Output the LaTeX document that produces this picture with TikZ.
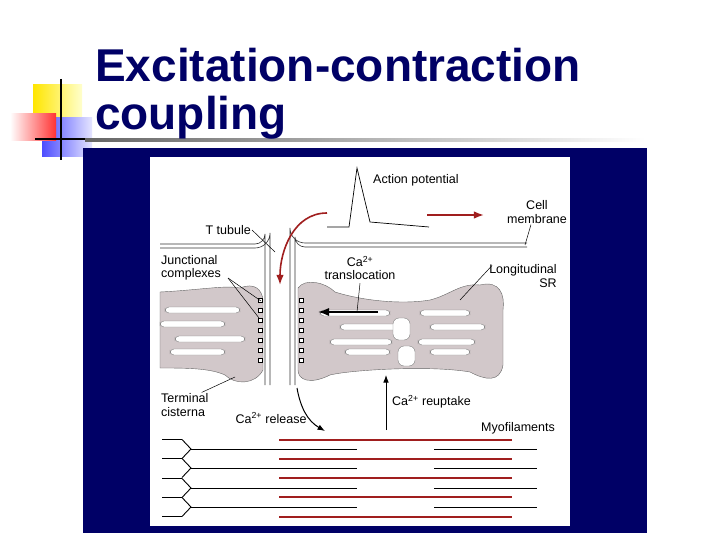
\documentclass[tikz,border=0pt]{standalone}
\usepackage{fontspec}
\setmainfont{Liberation Sans}
\usetikzlibrary{arrows.meta,positioning,calc}
\definecolor{navy}{RGB}{0,0,102}
\definecolor{srgray}{RGB}{210,200,202}
\definecolor{apred}{RGB}{160,30,30}
\begin{document}
\begin{tikzpicture}[x=1pt,y=-1pt,>=Latex,
    lbl/.style={font=\fontsize{12.5}{13.5}\selectfont, inner sep=1pt, align=center},
    lead/.style={draw=black, line width=0.5pt},
    redarrow/.style={draw=apred, line width=1.6pt, ->},
    blackarrow/.style={draw=black, line width=1pt, ->},
    membrane/.style={draw=black!80, line width=0.6pt},
    sr/.style={fill=srgray, draw=black!60, line width=0.4pt},
    lumen/.style={fill=white, draw=black!50, line width=0.4pt, rounded corners=4pt},
    actin/.style={draw=apred, line width=1.8pt},
    myosin/.style={draw=black, line width=0.9pt},
    foot/.style={draw=black, fill=white, line width=0.4pt, minimum size=4pt, inner sep=0pt}]
    \useasboundingbox (0,0) rectangle (720,540);
    \fill[white] (0,0) rectangle (720,540);

    % Title decoration
    \shade[left color=yellow!80!orange, right color=yellow!20] (33,85) rectangle (82,120);
    \shade[left color=blue!70, right color=blue!10] (42,118) rectangle (92,157);
    \shade[left color=white, right color=red!80] (10,114) rectangle (56,141);
    \draw[black, line width=1.5pt] (61,79) -- (61,160);
    \draw[black, line width=1.5pt] (35,139) -- (100,139);
    \shade[left color=black!60, right color=white] (85,139) rectangle (645,142);
    \node[anchor=base west, text=navy, font=\fontsize{46}{50}\bfseries\selectfont, inner sep=0pt] (title1) at (95,82) {Excitation-contraction};
    \node[anchor=base west, text=navy, font=\fontsize{46}{50}\bfseries\selectfont, inner sep=0pt] (title2) at (95,130) {coupling};

    % Panel
    \fill[navy] (83,148) rectangle (647,533);
    \fill[white] (150,157) rectangle (570,526);

    % Sarcoplasmic reticulum
    \path[sr] (160,292) .. controls (200,290) and (225,285) .. (240,288) .. controls (255,282) and (262,290) .. (263,300)
        -- (263,370) .. controls (255,385) and (235,385) .. (225,375) .. controls (210,368) and (185,368) .. (160,368) -- cycle;
    \path[sr] (298,288) .. controls (305,278) and (325,282) .. (335,292) .. controls (360,300) and (400,305) .. (430,300)
        .. controls (450,295) and (460,283) .. (480,285) .. controls (500,280) and (505,295) .. (503,310)
        -- (503,365) .. controls (500,383) and (485,380) .. (470,372) .. controls (430,365) and (350,370) .. (330,375)
        .. controls (310,385) and (298,380) .. (298,370) -- cycle;
    \foreach \y/\xa/\xb in {310/165/240, 324/160/225, 339/175/245, 352/170/225}
        \path[lumen] (\xa,\y-3) rectangle (\xb,\y+3);
    \foreach \y/\xa/\xb in {313/320/390, 327/340/400, 342/330/392, 352/345/390, 313/420/470, 327/430/485, 342/418/475, 352/430/470}
        \path[lumen] (\xa,\y-3) rectangle (\xb,\y+3);
    \path[lumen, rounded corners=6pt] (393,318) rectangle (410,340);
    \path[lumen, rounded corners=6pt] (398,346) rectangle (415,366);
    \foreach \y in {300,310,320,330,340,350,360} {
        \node[foot] (fl\y) at (260,\y) {};
        \node[foot] (fr\y) at (301,\y) {};
    }

    % Membranes and T tubule
    \draw[membrane] (160,244) -- (255,244) arc[start angle=90, end angle=0, radius=10] -- (265,385);
    \draw[membrane] (160,248) -- (255,248) arc[start angle=90, end angle=0, radius=15] -- (270,385);
    \draw[membrane] (527,243) -- (305,243) arc[start angle=90, end angle=180, radius=15] -- (290,385);
    \draw[membrane] (527,247) -- (305,247) arc[start angle=90, end angle=180, radius=10] -- (295,385);

    % Action potential
    \coordinate (apstart) at (327,227);
    \draw[black, line width=0.7pt] (apstart) -- (349,227) -- (357,168) -- (370,222) -- (429,227);
    \node[lbl, anchor=west] (aplabel) at (372,180) {Action potential};
    \node[lbl] (cellmem) at (537,212) {Cell\\membrane};
    \node[lbl, anchor=east] (ttubule) at (252,230) {T tubule};
    \node[lbl, anchor=west, align=left] (junction) at (160,268) {Junctional\\complexes};
    \node[lbl] (catrans) at (360,268) {Ca\textsuperscript{2+}\\translocation};
    \node[lbl, align=right] (longsr) at (523,276) {Longitudinal\\SR};
    \node[lbl, align=left, anchor=west] (terminal) at (160,405) {Terminal\\cisterna};
    \node[lbl] (carelease) at (271,418) {Ca\textsuperscript{2+} release};
    \node[lbl, anchor=west] (careuptake) at (391,402) {Ca\textsuperscript{2+} reuptake};
    \node[lbl, anchor=west] (myofil) at (480,428) {Myofilaments};

    % Leaders
    \draw[lead] (ttubule.east) -- (275,252);
    \draw[lead] (228,278) -- (261,301);
    \draw[lead] (228,278) -- (259,318);
    \draw[lead] (cellmem.south) ++(-6,0) -- (525,245);
    \draw[lead] (longsr.north west) ++(4,2) -- (460,300);
    \draw[lead] (catrans.south) ++(0,2) -- (357,312);
    \draw[lead] (terminal.north east) ++(-8,0) -- (235,377);

    % Arrows
    \draw[redarrow] (apstart) ++(0,-14) to[out=180, in=90] (280,285);
    \draw[redarrow] (427,215) -- (484,215);
    \draw[blackarrow, line width=1.8pt] (378,312) -- (318,312);
    \draw[blackarrow] (297,388) to[out=-80, in=150] (325,431);
    \draw[blackarrow] (386,430) -- (386,375);

    % Myofilaments
    \foreach \y in {440,459,478,497,517}
        \draw[actin] (279,\y) -- (512,\y);
    \foreach \y in {449,468,488,507} {
        \draw[myosin] (191,\y) -- (357,\y);
        \draw[myosin] (434,\y) -- (537,\y);
        \draw[myosin] (182,\y-9.5) -- (191,\y) -- (182,\y+9.5);
    }
    \foreach \y in {439.5,458.5,478,497.5,516.5}
        \draw[myosin] (162,\y) -- (182,\y);
\end{tikzpicture}
\end{document}
